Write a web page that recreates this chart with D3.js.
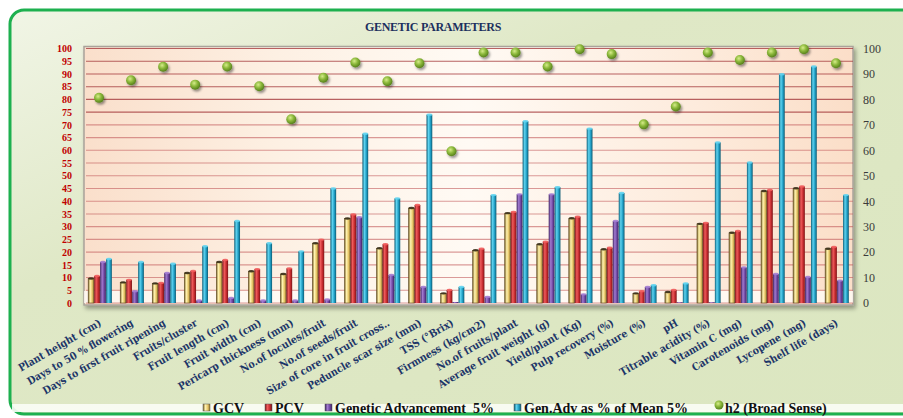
<!DOCTYPE html>
<html>
<head>
<meta charset="utf-8">
<script src="https://cdn.jsdelivr.net/npm/d3@7"></script>
<style>
  body { margin: 0; background: #fff; }
  svg { display: block; }
</style>
</head>
<body>
<div id="chart"></div>
<script>
// categories and series values
var categories = ["Plant height (cm)", "Days to 50 % flowering", "Days to first fruit ripening",
  "Fruits/cluster", "Fruit length (cm)", "Fruit width (cm)", "Pericarp thickness (mm)",
  "No.of locules/fruit", "No.of seeds/fruit", "Size of core in fruit cross..",
  "Peduncle scar size (mm)", "TSS (\u00B0Brix)", "Firmness (kg/cm2)", "No.of fruits/plant",
  "Average fruit weight (g)", "Yield/plant (Kg)", "Pulp recovery (%)", "Moisture (%)", "pH",
  "Titrable acidity (%)", "Vitamin C (mg)", "Carotenoids (mg)", "Lycopene (mg)", "Shelf life (days)"];

var gcv    = [9.6, 8.1, 7.7, 11.8, 16.1, 12.5, 11.4, 23.5, 33.2, 21.5, 37.3, 3.8, 20.7, 35.3, 23.1, 33.3, 21.1, 3.8, 4.3, 31.1, 27.6, 44.0, 45.1, 21.3];
var pcv    = [10.6, 9.1, 7.9, 12.6, 16.9, 13.3, 13.6, 24.9, 34.8, 23.1, 38.5, 5.1, 21.3, 35.8, 24.1, 33.9, 21.7, 4.6, 5.1, 31.5, 28.3, 44.4, 45.8, 22.0];
var ga     = [16.1, 4.6, 11.8, 1.0, 2.0, 1.0, 1.0, 1.4, 33.7, 11.0, 6.3, 0.4, 2.4, 42.7, 42.7, 3.4, 32.2, 6.3, 0.3, 0.3, 14.0, 11.4, 10.2, 8.8];
var genAdv = [17.3, 16.1, 15.4, 22.3, 32.2, 23.5, 20.3, 45.0, 66.5, 41.1, 74.0, 6.3, 42.4, 71.4, 45.5, 68.5, 43.2, 7.0, 7.7, 63.1, 55.2, 89.9, 92.9, 42.4];
var h2     = [80.6, 87.5, 92.8, 85.8, 92.9, 85.2, 72.2, 88.5, 94.5, 87.1, 94.2, 59.6, 98.4, 98.4, 92.9, 99.7, 97.8, 70.2, 77.2, 98.4, 95.5, 98.4, 99.7, 94.2];

var seriesNames = ["GCV", "PCV", "Genetic Advancement  5%", "Gen.Adv as % of Mean 5%"];
var seriesKeys = ["gcv", "pcv", "ga", "genAdv"];
var lineName = "h2 (Broad Sense)";
var leftTicks = d3.range(0, 101, 5);
var rightTicks = d3.range(0, 101, 10);

var width = 903, height = 418;
var plot = {left: 84, right: 853, top: 48.5, bottom: 303};

var svg = d3.select("#chart").append("svg")
    .attr("width", width)
    .attr("height", height);

var defs = svg.append("defs");

// background gradients
var bg = defs.append("linearGradient").attr("id", "bgGrad")
    .attr("x1", "0").attr("y1", "0").attr("x2", "1").attr("y2", "1");
bg.append("stop").attr("offset", "0").attr("stop-color", "#f1f5e6");
bg.append("stop").attr("offset", "0.35").attr("stop-color", "#dfe8c6");
bg.append("stop").attr("offset", "1").attr("stop-color", "#dbe6c0");

var pg = defs.append("linearGradient").attr("id", "plotGrad")
    .attr("x1", "0").attr("y1", "0").attr("x2", "1").attr("y2", "0");
pg.append("stop").attr("offset", "0").attr("stop-color", "#fadfcb");
pg.append("stop").attr("offset", "0.25").attr("stop-color", "#fdf0e3");
pg.append("stop").attr("offset", "0.5").attr("stop-color", "#fffaf4");
pg.append("stop").attr("offset", "0.8").attr("stop-color", "#fdebdc");
pg.append("stop").attr("offset", "1").attr("stop-color", "#fbdec8");

var shadow = defs.append("filter").attr("id", "shadow")
    .attr("x", "-10%").attr("y", "-10%").attr("width", "130%").attr("height", "130%");
shadow.append("feDropShadow").attr("dx", 2).attr("dy", 3).attr("stdDeviation", 2)
    .attr("flood-color", "#000").attr("flood-opacity", 0.35);

var dotShadow = defs.append("filter").attr("id", "dotShadow")
    .attr("x", "-50%").attr("y", "-50%").attr("width", "200%").attr("height", "200%");
dotShadow.append("feDropShadow").attr("dx", 1.5).attr("dy", 2).attr("stdDeviation", 1)
    .attr("flood-color", "#000").attr("flood-opacity", 0.4);

// cylinder look for each series
var barColors = {
  gcv:    ["#7d6428", "#fff3b0", "#e6c466", "#8a6d2a"],
  pcv:    ["#7e1518", "#ef5b5b", "#c42a2e", "#7a1416"],
  ga:     ["#3e2360", "#a27bd0", "#6e45a0", "#3c2260"],
  genAdv: ["#0d5f78", "#5fd3f0", "#1e9cc2", "#0c5a72"]
};
seriesKeys.forEach(function(k) {
  var g = defs.append("linearGradient").attr("id", "bar_" + k)
      .attr("x1", "0").attr("y1", "0").attr("x2", "1").attr("y2", "0");
  var c = barColors[k];
  g.append("stop").attr("offset", "0").attr("stop-color", c[0]);
  g.append("stop").attr("offset", "0.35").attr("stop-color", c[1]);
  g.append("stop").attr("offset", "0.7").attr("stop-color", c[2]);
  g.append("stop").attr("offset", "1").attr("stop-color", c[3]);
});

var dg = defs.append("radialGradient").attr("id", "dotGrad")
    .attr("cx", "0.4").attr("cy", "0.35").attr("r", "0.65");
dg.append("stop").attr("offset", "0").attr("stop-color", "#d6ec8a");
dg.append("stop").attr("offset", "0.5").attr("stop-color", "#8bb83a");
dg.append("stop").attr("offset", "1").attr("stop-color", "#56801c");

// outer frame
svg.append("rect")
    .attr("x", 10).attr("y", 10)
    .attr("width", 920).attr("height", 404)
    .attr("rx", 14)
    .attr("fill", "url(#bgGrad)")
    .attr("stroke", "#1db04f")
    .attr("stroke-width", 3);
svg.append("rect")
    .attr("x", 12).attr("y", 404)
    .attr("width", 900).attr("height", 8)
    .attr("fill", "#fbfdf6")
    .attr("opacity", 0.9);

// title
svg.append("text")
    .attr("x", 433).attr("y", 31)
    .attr("text-anchor", "middle")
    .style("font", "bold 12px 'Liberation Serif', serif")
    .style("letter-spacing", "-0.3px")
    .attr("fill", "#1c2f5e")
    .text("GENETIC PARAMETERS");

// scales
var x0 = d3.scaleBand()
    .domain(categories)
    .range([plot.left, plot.right])
    .paddingInner(0.25)
    .paddingOuter(0.125);

var x1 = d3.scaleBand()
    .domain(seriesKeys)
    .range([0, x0.bandwidth()])
    .padding(0.03);

var y = d3.scaleLinear().domain([0, 100]).range([plot.bottom, plot.top]);

// plot area
svg.append("rect")
    .attr("x", plot.left).attr("y", plot.top - 2)
    .attr("width", plot.right - plot.left)
    .attr("height", plot.bottom - plot.top + 4)
    .attr("fill", "url(#plotGrad)")
    .attr("stroke", "#a9a39a")
    .attr("stroke-width", 1.5)
    .attr("filter", "url(#shadow)");

// floor
svg.append("rect")
    .attr("x", plot.left).attr("y", plot.bottom - 12)
    .attr("width", plot.right - plot.left).attr("height", 12)
    .attr("fill", "#fffbf6").attr("opacity", 0.8);

// grid lines
svg.append("g").selectAll("line")
    .data(leftTicks)
    .join("line")
    .attr("x1", plot.left + 2).attr("x2", plot.right)
    .attr("y1", function(d) { return y(d); })
    .attr("y2", function(d) { return y(d); })
    .attr("stroke", function(d) { return d >= 75 ? "#a63c3e" : "#c25a5c"; })
    .attr("stroke-opacity", function(d) { return d >= 75 ? 0.8 : 0.6; })
    .attr("stroke-width", 1.1);

// left axis
var leftAxis = svg.append("g")
    .attr("transform", "translate(" + (plot.left - 12) + ",0)")
    .call(d3.axisLeft(y).tickValues(leftTicks).tickSize(0).tickPadding(0));
leftAxis.select(".domain").remove();
leftAxis.selectAll("text")
    .attr("fill", "#c00000")
    .style("font", "bold 10px 'Liberation Serif', serif");

// right axis
var rightAxis = svg.append("g")
    .attr("transform", "translate(" + (plot.right + 10) + ",0)")
    .call(d3.axisRight(y).tickValues(rightTicks).tickSize(0).tickPadding(0));
rightAxis.select(".domain").remove();
rightAxis.selectAll("text")
    .attr("fill", "#3a3a3a")
    .style("font", "12px 'Liberation Serif', serif");

// bars
var rows = categories.map(function(c, i) {
  return {cat: c, gcv: gcv[i], pcv: pcv[i], ga: ga[i], genAdv: genAdv[i], h2: h2[i]};
});

var groups = svg.append("g").selectAll("g")
    .data(rows)
    .join("g")
    .attr("transform", function(d) { return "translate(" + x0(d.cat) + ",0)"; });

groups.selectAll("rect")
    .data(function(d) { return seriesKeys.map(function(k) { return {key: k, value: d[k]}; }); })
    .join("rect")
    .attr("x", function(d) { return x1(d.key); })
    .attr("y", function(d) { return y(d.value); })
    .attr("width", x1.bandwidth())
    .attr("height", function(d) { return y(0) - y(d.value); })
    .attr("fill", function(d) { return "url(#bar_" + d.key + ")"; })
    .attr("stroke", function(d) { return d.key === "gcv" ? "#5a4820" : "none"; })
    .attr("stroke-width", 0.6);

// bar caps
groups.selectAll("ellipse")
    .data(function(d) { return seriesKeys.map(function(k) { return {key: k, value: d[k]}; }); })
    .join("ellipse")
    .attr("cx", function(d) { return x1(d.key) + x1.bandwidth() / 2; })
    .attr("cy", function(d) { return y(d.value); })
    .attr("rx", x1.bandwidth() / 2)
    .attr("ry", 1.2)
    .attr("fill", function(d) { return d.key === "gcv" ? "#3a2f18" : barColors[d.key][1]; })
    .attr("opacity", function(d) { return d.value > 0.5 ? 0.9 : 0; });

// h2 points
svg.append("g").selectAll("circle")
    .data(rows)
    .join("circle")
    .attr("cx", function(d) { return x0(d.cat) + x0.bandwidth() / 2 - 1; })
    .attr("cy", function(d) { return y(d.h2); })
    .attr("r", 5)
    .attr("fill", "url(#dotGrad)")
    .attr("filter", "url(#dotShadow)");

// category labels
svg.append("g").selectAll("text")
    .data(categories)
    .join("text")
    .attr("transform", function(d) {
      return "translate(" + (x0(d) + x0.bandwidth() / 2 + 2) + "," + 325 + ") rotate(-30)";
    })
    .attr("text-anchor", "end")
    .attr("fill", "#1c3568")
    .style("font", "bold 10.5px 'DejaVu Serif Condensed', 'DejaVu Serif', serif")
    .style("font-stretch", "condensed")
    .text(function(d) { return d; });

// legend
var legendItems = [
  {name: seriesNames[0], key: "gcv", x: 203},
  {name: seriesNames[1], key: "pcv", x: 265},
  {name: seriesNames[2], key: "ga", x: 325},
  {name: seriesNames[3], key: "genAdv", x: 514},
  {name: lineName, key: "h2", x: 716}
];
var legend = svg.append("g");
legendItems.forEach(function(it) {
  if (it.key === "h2") {
    legend.append("circle")
        .attr("cx", it.x + 3).attr("cy", 405).attr("r", 4.5)
        .attr("fill", "url(#dotGrad)");
  } else {
    legend.append("rect")
        .attr("x", it.x).attr("y", 404)
        .attr("width", 7).attr("height", 7)
        .attr("fill", "url(#bar_" + it.key + ")")
        .attr("stroke", "#555").attr("stroke-width", 0.5);
  }
  legend.append("text")
      .attr("x", it.x + (it.key === "h2" ? 9 : 10)).attr("y", 413)
      .attr("fill", "#111")
      .style("font", "bold 14px 'Liberation Serif', serif")
      .style("white-space", "pre")
      .attr("xml:space", "preserve")
      .text(it.name);
});
</script>
</body>
</html>
